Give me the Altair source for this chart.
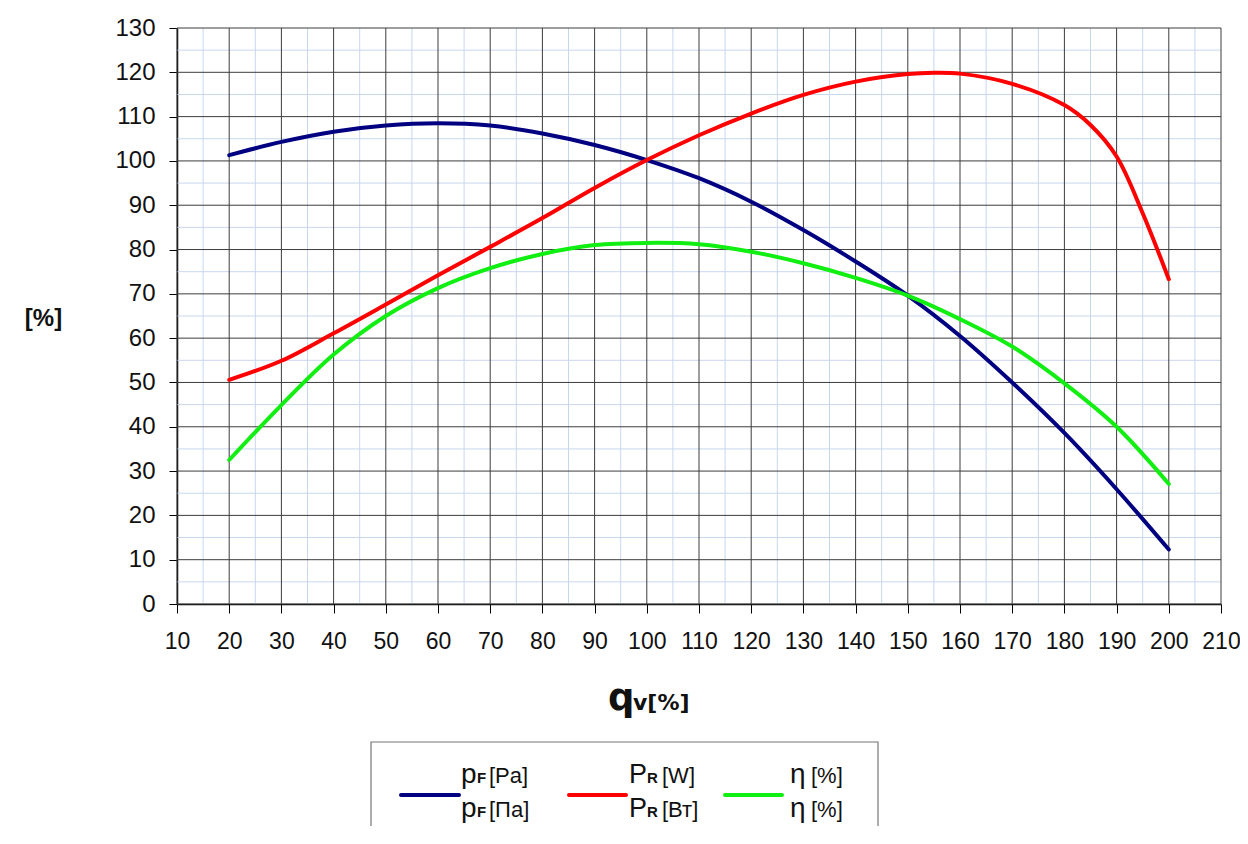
import altair as alt
import pandas as pd

# ---- data ----
q_pf = [20, 30, 40, 50, 60, 70, 80, 90, 100, 110, 120, 130, 140, 150, 160, 170, 180, 190, 200]
pf = [101.3, 104.3, 106.6, 108.0, 108.5, 108.0, 106.2, 103.6, 100.2, 96.1, 90.8, 84.4, 77.3, 69.6,
      60.5, 50.0, 38.6, 25.9, 12.3]

q_pr = [20, 30, 40, 50, 60, 70, 80, 90, 100, 110, 120, 130, 140, 150, 155, 160, 170, 180, 185, 190, 195, 200]
pr = [50.6, 54.9, 61.1, 67.6, 74.2, 80.6, 87.1, 93.9, 100.2, 105.8, 110.7, 114.9, 117.9, 119.6, 119.9,
      119.7, 117.4, 112.6, 108.1, 101.0, 88.2, 73.3]

q_eta = [20, 30, 40, 50, 60, 70, 80, 90, 100, 110, 120, 130, 140, 150, 160, 170, 180, 190, 200]
eta = [32.5, 44.9, 56.3, 65.0, 71.3, 75.8, 79.0, 81.0, 81.5, 81.2, 79.5, 76.9, 73.6, 69.6, 64.3,
       58.1, 49.8, 40.0, 27.1]

series = ["pF", "PR", "eta"]
colors = ["#000080", "#ff0000", "#11ee11"]

x_major = list(range(10, 211, 10))
x_minor = list(range(15, 206, 10))
y_major = list(range(0, 131, 10))
y_minor = list(range(5, 126, 10))

rows = []
for s, xs_, vs_ in zip(series, [q_pf, q_pr, q_eta], [pf, pr, eta]):
    for a, b in zip(xs_, vs_):
        rows.append({"q": a, "v": b, "s": s})
df = pd.DataFrame(rows)

FONT = "Liberation Sans"
W, H = 1044, 576

xs = alt.Scale(domain=[10, 210], nice=False, zero=False)
ys = alt.Scale(domain=[0, 130], nice=False)

x_axis = alt.Axis(values=x_major, title=None, grid=False, domainColor="#000", domainWidth=1.5,
                  tickColor="#000", tickSize=9, labelFontSize=23, labelFont=FONT, labelColor="#111",
                  labelPadding=17, labelFlush=False)
y_axis = alt.Axis(values=y_major, title="[%]", titleAngle=0, titleX=-134, titleY=290,
                  titleAlign="center", titleBaseline="middle", titleFont=FONT, titleFontSize=24,
                  titleFontWeight="bold", titleColor="#111",
                  grid=False, domainColor="#000", domainWidth=1.5, tickColor="#000", tickSize=8,
                  labelFontSize=24, labelFont=FONT, labelColor="#111", labelPadding=14)

minor_x = alt.Chart(pd.DataFrame({"q": x_minor})).mark_rule(color="#c8d7ee", strokeWidth=1).encode(
    x=alt.X("q:Q", scale=xs, axis=x_axis))
minor_y = alt.Chart(pd.DataFrame({"v": y_minor})).mark_rule(color="#c8d7ee", strokeWidth=1).encode(
    y=alt.Y("v:Q", scale=ys, axis=y_axis))
major_x = alt.Chart(pd.DataFrame({"q": x_major})).mark_rule(color="#3c3c3c", strokeWidth=1).encode(
    x=alt.X("q:Q", scale=xs, axis=x_axis))
major_y = alt.Chart(pd.DataFrame({"v": y_major})).mark_rule(color="#3c3c3c", strokeWidth=1).encode(
    y=alt.Y("v:Q", scale=ys, axis=y_axis))

lines = alt.Chart(df).mark_line(strokeWidth=4, interpolate="catmull-rom", strokeCap="round").encode(
    x=alt.X("q:Q", scale=xs, axis=x_axis),
    y=alt.Y("v:Q", scale=ys, axis=y_axis),
    color=alt.Color("s:N", scale=alt.Scale(domain=series, range=colors), legend=None),
    detail="s:N",
)


def txt(t, x, y, size, bold=False, font=FONT):
    return alt.Chart(pd.DataFrame({"t": [t]})).mark_text(
        align="left", baseline="alphabetic", font=font, fontSize=size,
        fontWeight="bold" if bold else "normal", color="#111").encode(
        x=alt.value(x), y=alt.value(y), text="t:N")


# x-axis title  q_v[%]
title_layers = [txt("q", 431, 682, 37, True, "DejaVu Sans"), txt("v[%]", 456, 682, 22, True, "DejaVu Sans")]

# custom legend box
box = alt.Chart(pd.DataFrame({"a": [0]})).mark_rect(fill="white", stroke="#777", strokeWidth=1.2).encode(
    x=alt.value(194), x2=alt.value(701), y=alt.value(714), y2=alt.value(850))

leg_lines = []
for c, (x1, x2) in zip(colors, [(224, 282), (392, 449), (548, 605)]):
    leg_lines.append(alt.Chart(pd.DataFrame({"a": [0]})).mark_rule(color=c, strokeWidth=4, strokeCap="round").encode(
        x=alt.value(x1), x2=alt.value(x2), y=alt.value(767)))

r1, r2 = 755, 789
leg_text = [
    txt("p", 284, r1, 28), txt("F", 300, r1, 15, True), txt("[Pa]", 312, r1, 22),
    txt("p", 284, r2, 28), txt("F", 300, r2, 15, True), txt("[Па]", 312, r2, 22),
    txt("P", 452, r1, 27), txt("R", 470, r1, 15, True), txt("[W]", 485, r1, 22),
    txt("P", 452, r2, 27), txt("R", 470, r2, 15, True), txt("[Вт]", 485, r2, 22),
    txt("η", 613, r1, 28), txt("[%]", 634, r1, 22),
    txt("η", 613, r2, 28), txt("[%]", 634, r2, 22),
]

chart = alt.layer(minor_x, minor_y, major_x, major_y, lines, *title_layers, box, *leg_lines, *leg_text).properties(
    width=W, height=H,
    autosize=alt.AutoSizeParams(type="none"),
    padding={"left": 169, "top": 20, "right": 19, "bottom": 222},
    background="white",
).configure_view(strokeWidth=0)

chart.save("out.html", embed_options={"renderer": "svg", "actions": False})
